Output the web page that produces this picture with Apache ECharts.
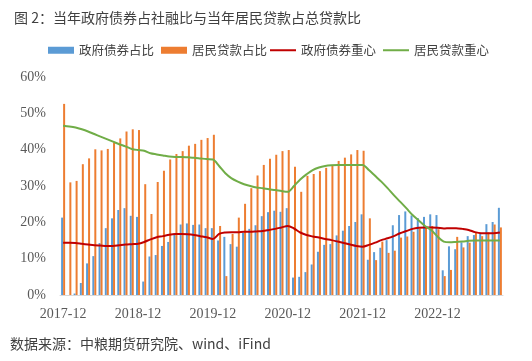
<!DOCTYPE html>
<html>
<head>
<meta charset="utf-8">
<script src="https://cdn.jsdelivr.net/npm/echarts@6/dist/echarts.min.js"></script>
<style>
html,body{margin:0;padding:0;background:#fff;}
#c{width:532px;height:361px;}
</style>
</head>
<body>
<div id="c"></div>
<script>
var categories = [
'2017-12',
'2018-01','2018-02','2018-03','2018-04','2018-05','2018-06','2018-07','2018-08','2018-09','2018-10','2018-11','2018-12',
'2019-01','2019-02','2019-03','2019-04','2019-05','2019-06','2019-07','2019-08','2019-09','2019-10','2019-11','2019-12',
'2020-01','2020-02','2020-03','2020-04','2020-05','2020-06','2020-07','2020-08','2020-09','2020-10','2020-11','2020-12',
'2021-01','2021-02','2021-03','2021-04','2021-05','2021-06','2021-07','2021-08','2021-09','2021-10','2021-11','2021-12',
'2022-01','2022-02','2022-03','2022-04','2022-05','2022-06','2022-07','2022-08','2022-09','2022-10','2022-11','2022-12',
'2023-01','2023-02','2023-03','2023-04','2023-05','2023-06','2023-07','2023-08','2023-09','2023-10'
];
var govBondShare = [
21.3,
0.0,0.4,3.3,8.7,10.7,14.3,18.4,21.1,23.4,23.9,21.8,21.5,
3.7,10.6,11.0,13.5,14.6,17.0,19.4,19.7,19.3,19.4,18.4,18.4,
15.0,16.0,14.0,13.3,17.1,18.2,19.2,21.7,22.8,23.2,22.9,23.9,
4.8,5.0,6.3,8.4,11.9,13.8,14.0,16.4,17.7,19.0,20.1,22.2,
9.7,11.8,13.0,15.1,19.2,22.0,23.0,21.9,21.2,21.5,22.2,22.0,
6.8,13.4,12.6,14.5,16.2,16.5,16.9,19.5,20.1,24.0
];
var householdLoanShare = [
52.6,
31.0,31.4,36.0,37.6,40.1,39.8,40.2,42.0,43.1,45.0,45.6,45.4,
30.5,22.3,31.1,34.2,37.3,38.8,39.6,41.1,41.6,42.7,43.2,44.1,
19.0,5.2,16.8,21.3,25.1,29.4,32.9,35.8,37.5,38.6,39.6,39.9,
35.3,28.4,32.8,33.3,34.1,35.0,35.5,36.9,37.8,38.7,39.9,39.7,
21.1,9.6,14.7,11.6,12.2,15.8,16.1,17.4,18.3,18.8,19.0,18.1,
5.2,6.9,16.0,13.1,14.4,17.2,16.2,17.2,19.4,18.6
];
var govBondCenter = [
14.4,
14.4,14.3,14.1,13.9,13.7,13.6,13.5,13.5,13.7,13.9,14.0,14.1,
14.6,15.3,15.9,16.2,16.6,16.8,16.8,16.7,16.5,16.2,15.9,15.4,
16.8,17.2,17.3,17.3,17.4,17.4,17.5,17.6,17.9,18.2,18.6,19.0,
18.3,17.2,16.5,16.1,15.8,15.4,15.1,14.7,14.3,13.9,13.5,13.3,
13.8,14.4,15.1,15.6,16.2,17.0,17.6,18.2,18.5,18.6,18.6,18.5,
18.3,18.4,18.4,18.2,17.9,17.3,17.0,17.0,17.0,17.2
];
var householdLoanCenter = [
46.6,
46.4,46.1,45.6,45.0,44.3,43.6,42.9,42.2,41.5,40.9,40.2,39.9,
39.7,39.0,38.7,38.4,38.1,38.0,38.0,37.9,37.8,37.6,37.4,37.3,
35.5,33.5,32.1,31.2,30.5,30.0,29.6,29.4,29.1,28.9,28.6,28.4,
30.0,31.8,33.2,34.4,35.1,35.5,35.7,35.8,35.8,35.8,35.8,35.8,
34.4,32.8,31.2,29.4,27.5,25.7,23.9,22.0,20.5,19.0,17.9,16.1,
14.7,14.5,14.6,14.7,14.9,15.0,15.0,15.0,15.0,15.0
];
var seriesNames = ['政府债券占比','居民贷款占比','政府债券重心','居民贷款重心'];
var yTicks = [0, 60, 10];

var chart = echarts.init(document.getElementById('c'), null, {renderer:'canvas'});
var cjk = '"Noto Sans CJK SC", sans-serif';
var serif = '"Liberation Serif", "DejaVu Serif", serif';
chart.setOption({
  animation: false,
  backgroundColor: '#ffffff',
  title: {
    text: '图 2：当年政府债券占社融比与当年居民贷款占总贷款比',
    left: 9, top: 6,
    textStyle: {fontSize: 14, fontWeight: 'normal', color: '#404040', fontFamily: cjk}
  },
  graphic: [{
    type: 'text', left: 10, top: 337,
    style: {text: '数据来源：中粮期货研究院、wind、iFind', fontSize: 14, fill: '#404040', fontFamily: cjk}
  }],
  legend: [{
    left: 43, top: 39,
    itemWidth: 26, itemHeight: 7, itemGap: 7,
    icon: 'rect',
    data: [seriesNames[0], seriesNames[1]],
    textStyle: {fontSize: 12.5, color: '#404040', fontFamily: cjk}
  },{
    left: 265, top: 39,
    itemWidth: 26, itemHeight: 2, itemGap: 7,
    icon: 'rect',
    data: [seriesNames[2], seriesNames[3]],
    textStyle: {fontSize: 12.5, color: '#404040', fontFamily: cjk}
  }],
  grid: {left: 60, right: 29, top: 77, bottom: 66, containLabel: false},
  xAxis: {
    type: 'category',
    data: categories,
    boundaryGap: true,
    axisTick: {show: false},
    axisLine: {lineStyle: {color: '#d9d9d9', width: 1}},
    axisLabel: {interval: 11, fontSize: 14, color: '#595959', fontFamily: serif, margin: 12}
  },
  yAxis: {
    type: 'value',
    min: yTicks[0], max: yTicks[1], interval: yTicks[2],
    axisLine: {show: false},
    axisTick: {show: false},
    splitLine: {show: false},
    axisLabel: {formatter: '{value}%', fontSize: 14, color: '#595959', fontFamily: serif, margin: 14}
  },
  series: [{
    name: seriesNames[0], type: 'bar', data: govBondShare,
    barWidth: 2, barGap: '0%',
    itemStyle: {color: '#5B9BD5'}
  },{
    name: seriesNames[1], type: 'bar', data: householdLoanShare,
    barWidth: 2, barGap: '0%',
    itemStyle: {color: '#ED7D31'}
  },{
    name: seriesNames[2], type: 'line', data: govBondCenter,
    symbol: 'none', smooth: 0.3,
    lineStyle: {color: '#C00000', width: 2},
    itemStyle: {color: '#C00000'}
  },{
    name: seriesNames[3], type: 'line', data: householdLoanCenter,
    symbol: 'none', smooth: 0.3,
    lineStyle: {color: '#70AD47', width: 2},
    itemStyle: {color: '#70AD47'}
  }]
});
</script>
</body>
</html>
